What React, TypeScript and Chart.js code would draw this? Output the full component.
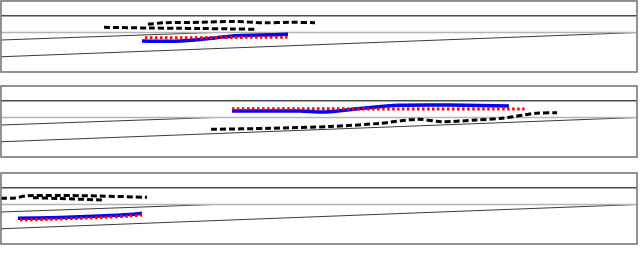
import { useEffect, useRef } from "react";
import { Chart, registerables } from "chart.js";

Chart.register(...registerables);

// ---- axis ranges (metres) ----
const X_MIN = 0;
const X_MAX = 300;
const Y_MIN = 0;
const Y_MAX = 14;

// ---- road geometry ----
const laneTopX = [0, 300];
const laneTopY = [11.1, 11.1];
const laneMidX = [0, 300];
const laneMidY = [7.8, 7.8];
const rampInnerX = [0, 100];
const rampInnerY = [6.3, 7.8];
const rampOuterX = [0, 300];
const rampOuterY = [3.0, 7.8];

// ---- panel 1 ----
const p1SurroundAX = [48.6, 70.3, 84.0, 93.9, 108.0, 120.8];
const p1SurroundAY = [8.81, 8.67, 8.62, 8.58, 8.5, 8.42];
const p1SurroundBX = [69.3, 77.4, 93.9, 109.4, 124.5, 136.3, 148.1];
const p1SurroundBY = [9.4, 9.72, 9.8, 9.96, 9.7, 9.8, 9.72];
const p1ActualX = [66.5, 79.7, 91.5, 100.9, 110.4, 122.2, 135.4];
const p1ActualY = [6.11, 6.05, 6.31, 6.7, 7.16, 7.29, 7.43];
const p1PredX = [67.9, 84.4, 103.3, 122.2, 135.4];
const p1PredY = [6.76, 6.74, 6.8, 6.84, 6.84];

// ---- panel 2 ----
const p2SurroundAX = [99.1, 126.9, 155.2, 178.8, 196.2, 208.5, 224.1, 236.3, 252.4, 262.3];
const p2SurroundAY = [5.46, 5.66, 6.01, 6.64, 7.43, 6.96, 7.29, 7.63, 8.62, 8.73];
const p2ActualX = [109.0, 141.0, 152.8, 169.3, 187.7, 211.8, 239.6];
const p2ActualY = [9.07, 9.07, 8.87, 9.56, 10.19, 10.25, 10.06];
const p2PredX = [109.0, 141.0, 187.7, 247.6];
const p2PredY = [9.52, 9.52, 9.46, 9.46];

// ---- panel 3 ----
const p3SurroundAX = [0, 6.6, 12.3, 27.8, 46.7, 68.9];
const p3SurroundAY = [9.01, 9.07, 9.52, 9.56, 9.46, 9.21];
const p3SurroundBX = [15.1, 27.8, 47.6];
const p3SurroundBY = [9.13, 8.97, 8.67];
const p3ActualX = [8.0, 27.8, 46.7, 60.8, 66.5];
const p3ActualY = [5.07, 5.22, 5.52, 5.81, 6.05];
const p3PredX = [9.0, 27.8, 46.7, 60.8, 66.5];
const p3PredY = [4.73, 4.93, 5.22, 5.52, 5.72];

const PANEL_TOPS = [1, 86, 173];

const zip = (xs: number[], ys: number[]) => xs.map((x, i) => ({ x, y: ys[i] }));

type Traj = { x: number[]; y: number[] };
type Panel = { surround: Traj[]; actual: Traj; pred: Traj };

const panels: Panel[] = [
  {
    surround: [
      { x: p1SurroundAX, y: p1SurroundAY },
      { x: p1SurroundBX, y: p1SurroundBY },
    ],
    actual: { x: p1ActualX, y: p1ActualY },
    pred: { x: p1PredX, y: p1PredY },
  },
  {
    surround: [{ x: p2SurroundAX, y: p2SurroundAY }],
    actual: { x: p2ActualX, y: p2ActualY },
    pred: { x: p2PredX, y: p2PredY },
  },
  {
    surround: [
      { x: p3SurroundAX, y: p3SurroundAY },
      { x: p3SurroundBX, y: p3SurroundBY },
    ],
    actual: { x: p3ActualX, y: p3ActualY },
    pred: { x: p3PredX, y: p3PredY },
  },
];

const framePlugin = {
  id: "frame",
  afterDatasetsDraw(chart: any) {
    const { ctx, chartArea } = chart;
    ctx.save();
    ctx.strokeStyle = "#777";
    ctx.lineWidth = 1.6;
    ctx.strokeRect(chartArea.left, chartArea.top, chartArea.right - chartArea.left, chartArea.bottom - chartArea.top);
    ctx.restore();
  },
};

function PanelChart({ panel, top }: { panel: Panel; top: number }) {
  const ref = useRef<HTMLCanvasElement | null>(null);
  useEffect(() => {
    if (!ref.current) return;
    const road = (xs: number[], ys: number[], color: string, width: number) => ({
      data: zip(xs, ys),
      borderColor: color,
      borderWidth: width,
      pointRadius: 0,
      tension: 0,
      fill: false,
      order: 10,
    });
    const datasets: any[] = [
      road(laneTopX, laneTopY, "#4a4a4a", 1.6),
      road(laneMidX, laneMidY, "#b5b5b5", 1.6),
      road(rampInnerX, rampInnerY, "#3a3a3a", 1.1),
      road(rampOuterX, rampOuterY, "#3a3a3a", 1.1),
    ];
    panel.surround.forEach((s) =>
      datasets.push({
        data: zip(s.x, s.y),
        borderColor: "#000",
        borderWidth: 3,
        borderDash: [6, 3],
        pointRadius: 0,
        tension: 0.3,
        fill: false,
        order: 3,
      })
    );
    datasets.push({
      data: zip(panel.actual.x, panel.actual.y),
      borderColor: "#0000ff",
      borderWidth: 3.5,
      pointRadius: 0,
      tension: 0.3,
      fill: false,
      order: 2,
    });
    datasets.push({
      data: zip(panel.pred.x, panel.pred.y),
      borderColor: "#ff0000",
      borderWidth: 3,
      borderDash: [2.5, 2.5],
      pointRadius: 0,
      tension: 0.3,
      fill: false,
      order: 1,
    });
    const chart = new Chart(ref.current, {
      type: "line",
      data: { datasets },
      options: {
        animation: false,
        responsive: false,
        maintainAspectRatio: false,
        layout: { padding: { left: 1, right: 3, top: 1, bottom: 2 } },
        plugins: { legend: { display: false }, tooltip: { enabled: false } },
        scales: {
          x: { type: "linear", min: X_MIN, max: X_MAX, display: false },
          y: { type: "linear", min: Y_MIN, max: Y_MAX, display: false },
        },
      },
      plugins: [framePlugin],
    });
    return () => chart.destroy();
  }, [panel]);
  return (
    <canvas
      ref={ref}
      width={640}
      height={74}
      style={{ position: "absolute", left: 0, top: top - 1, width: 640, height: 74 }}
    />
  );
}

export default function App() {
  return (
    <div style={{ position: "absolute", left: 0, top: 0, width: 640, height: 270, background: "#fff" }}>
      {panels.map((p, i) => (
        <PanelChart key={i} panel={p} top={PANEL_TOPS[i]} />
      ))}
    </div>
  );
}
